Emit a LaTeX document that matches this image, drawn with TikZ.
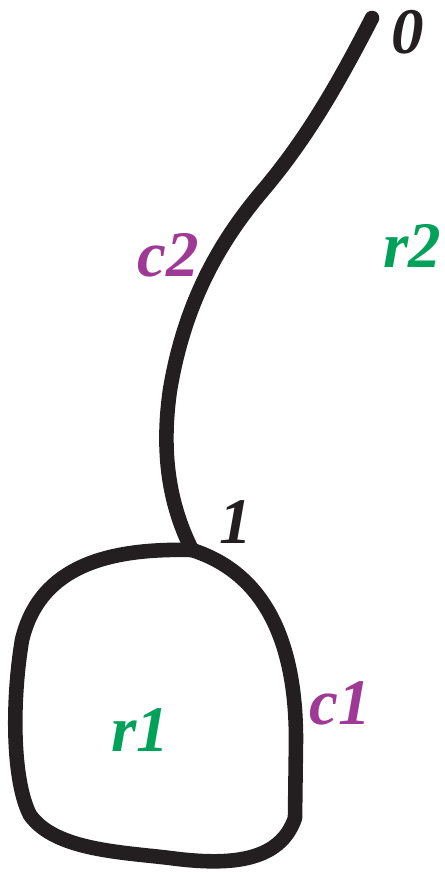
\documentclass[tikz,border=0pt]{standalone}
\usepackage{fontspec}
\setmainfont{Liberation Serif}
\definecolor{inkblack}{HTML}{231F20}
\definecolor{cpurple}{HTML}{9E3995}
\definecolor{rgreen}{HTML}{00A159}

\begin{document}
\begin{tikzpicture}[
  x=0.02cm, y=-0.02cm,
  curve/.style={draw=inkblack, line width=8.3pt, line cap=round, line join=round},
  lbl/.style={font=\fontsize{37}{40}\selectfont\bfseries\itshape, inner sep=0pt},
  vtx/.style={lbl, text=inkblack},
  cell/.style={lbl, text=cpurple},
  reg/.style={lbl, text=rgreen}
]
\useasboundingbox (0,0) rectangle (444,881);
\coordinate (p0) at (372,18);
\coordinate (p1) at (192,550);
% stem from 0 down to 1
\draw[curve] (p0) .. controls (335,90) and (305,140) .. (265,188)
  .. controls (222,238) and (185,300) .. (170,390)
  .. controls (160,460) and (172,510) .. (p1);
% loop through 1
\draw[curve] (p1) .. controls (110,548) and (40,565) .. (22,640)
  .. controls (12,700) and (12,780) .. (30,815)
  .. controls (55,850) and (120,852) .. (170,858)
  .. controls (230,866) and (280,862) .. (295,818)
  -- (296,740)
  .. controls (296,650) and (270,575) .. cycle;
\node[vtx] (l0) at (408,32) {0};
\node[vtx] (l1) at (236,522) {1};
\node[cell] (c2) at (168,255) {c2};
\node[reg] (r2) at (412,246) {r2};
\node[cell] (c1) at (340,703) {c1};
\node[reg] (r1) at (140,730) {r1};
\end{tikzpicture}
\end{document}
